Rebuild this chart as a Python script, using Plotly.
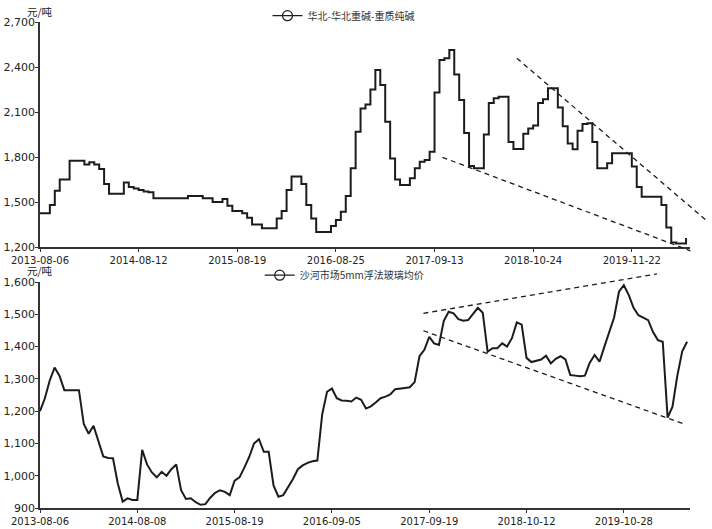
import plotly.graph_objects as go

# ---------------- data ----------------
top_tick_labels = ["2013-08-06", "2014-08-12", "2015-08-19", "2016-08-25",
                   "2017-09-13", "2018-10-24", "2019-11-22"]
bottom_tick_labels = ["2013-08-06", "2014-08-08", "2015-08-19", "2016-09-05",
                      "2017-09-19", "2018-10-12", "2019-10-28"]
points_per_tick = 20

soda_name = "华北-华北重碱-重质纯碱"
soda_price = [
    1425, 1425, 1480, 1575, 1650, 1650, 1775, 1775, 1775, 1750,
    1765, 1750, 1720, 1620, 1555, 1555, 1555, 1630, 1600, 1590,
    1580, 1570, 1565, 1525, 1525, 1525, 1525, 1525, 1525, 1525,
    1540, 1540, 1540, 1525, 1525, 1500, 1500, 1520, 1475, 1440,
    1440, 1425, 1395, 1350, 1350, 1325, 1325, 1325, 1390, 1440,
    1580, 1670, 1670, 1620, 1480, 1390, 1300, 1300, 1300, 1340,
    1380, 1435, 1540, 1725, 1969, 2124, 2150, 2250, 2380, 2280,
    2035, 1790, 1650, 1613, 1613, 1658, 1725, 1769, 1780, 1835,
    2230, 2447, 2458, 2513, 2350, 2180, 1960, 1740, 1725, 1725,
    1950, 2160, 2191, 2202, 2202, 1900, 1853, 1853, 1955, 1990,
    2010, 2160, 2185, 2258, 2258, 2130, 2005, 1890, 1851, 1975,
    2020, 2025, 1900, 1725, 1725, 1758, 1825, 1825, 1825, 1825,
    1736, 1600, 1535, 1535, 1535, 1535, 1480, 1330, 1230, 1224,
    1224, 1260,
]

glass_name = "沙河市场5mm浮法玻璃均价"
glass_price = [
    1200, 1240, 1295, 1335, 1310, 1265, 1265, 1265, 1265, 1160,
    1130, 1155, 1105, 1060, 1055, 1054, 975, 920, 930, 925,
    925, 1080, 1035, 1010, 995, 1012, 1000, 1020, 1035, 955,
    928, 930, 918, 910, 912, 932, 947, 955, 950, 940,
    985, 995, 1025, 1058, 1100, 1113, 1074, 1074, 970, 935,
    940, 965, 990, 1020, 1032, 1040, 1045, 1047, 1190, 1260,
    1270, 1240, 1233, 1232, 1230, 1242, 1235, 1208, 1215, 1227,
    1240, 1245, 1252, 1268, 1271, 1272, 1274, 1290, 1370, 1390,
    1430, 1410, 1405, 1480, 1508, 1503, 1485, 1480, 1482, 1500,
    1520, 1505, 1384, 1395, 1395, 1410, 1400, 1426, 1475, 1468,
    1365, 1352, 1356, 1360, 1372, 1348, 1362, 1370, 1360, 1312,
    1310, 1308, 1310, 1350, 1374, 1353, 1400, 1446, 1490, 1570,
    1590, 1560, 1520, 1497, 1490, 1482, 1445, 1420, 1415, 1180,
    1214, 1310, 1385, 1415,
]

# hand-drawn trend lines: (index, price) endpoints
soda_trend_upper = [(96.7, 2458), (135.4, 1369)]
soda_trend_lower = [(81.6, 1798), (131.9, 1175)]
glass_trend_upper = [(78.8, 1503), (126.8, 1625)]
glass_trend_lower = [(78.8, 1449), (132.6, 1159)]

unit = "元/吨"

# ---------------- layout constants ----------------
W, H = 712, 529
ML, MR, MT, MB = 40, 22, 22, 21
top_dom = [0.537, 1.0]
bot_dom = [0.0, 0.465]
top_xrange = [0, 131.8]
bot_xrange = [0, 133.6]
top_yrange = [1200, 2700]
bot_yrange = [900, 1600]

TICK_FONT = dict(family="DejaVu Sans", size=10, color="#222")
YTICK_FONT = dict(family="DejaVu Sans", size=11, color="#222")
CJK = "Noto Sans CJK SC"
LINE_COLOR = "#1c1c1c"

fig = go.Figure()

fig.add_trace(go.Scatter(
    x=list(range(len(soda_price))), y=soda_price, mode="lines",
    line=dict(color=LINE_COLOR, width=2, shape="hv"),
    xaxis="x", yaxis="y", showlegend=False, hoverinfo="skip"))
fig.add_trace(go.Scatter(
    x=[None], y=[None], mode="lines+markers", name=soda_name,
    line=dict(color=LINE_COLOR, width=1.2),
    marker=dict(symbol="circle-open", size=10, color=LINE_COLOR, line=dict(width=1.2)),
    xaxis="x", yaxis="y", legend="legend"))

fig.add_trace(go.Scatter(
    x=list(range(len(glass_price))), y=glass_price, mode="lines",
    line=dict(color=LINE_COLOR, width=2),
    xaxis="x2", yaxis="y2", showlegend=False, hoverinfo="skip"))
fig.add_trace(go.Scatter(
    x=[None], y=[None], mode="lines+markers", name=glass_name,
    line=dict(color=LINE_COLOR, width=1.2),
    marker=dict(symbol="circle-open", size=10, color=LINE_COLOR, line=dict(width=1.2)),
    xaxis="x2", yaxis="y2", legend="legend2"))


def to_dom(pt, xr, yr):
    x, y = pt
    return (x - xr[0]) / (xr[1] - xr[0]), (y - yr[0]) / (yr[1] - yr[0])


shapes = []
for trend, xr, yr, ax in [
    (soda_trend_upper, top_xrange, top_yrange, ""),
    (soda_trend_lower, top_xrange, top_yrange, ""),
    (glass_trend_upper, bot_xrange, bot_yrange, "2"),
    (glass_trend_lower, bot_xrange, bot_yrange, "2"),
]:
    (x0, y0), (x1, y1) = to_dom(trend[0], xr, yr), to_dom(trend[1], xr, yr)
    shapes.append(dict(type="line", xref=f"x{ax} domain", yref=f"y{ax} domain",
                       x0=x0, y0=y0, x1=x1, y1=y1,
                       line=dict(color=LINE_COLOR, width=1.3, dash="5px,4px")))

xcommon = dict(showgrid=False, zeroline=False, showline=True, linecolor="#333",
               linewidth=1.5, ticks="outside", ticklen=3, tickcolor="#333",
               tickfont=TICK_FONT, automargin=False)
ycommon = dict(showgrid=False, zeroline=False, showline=True, linecolor="#333",
               linewidth=1.5, ticks="outside", ticklen=3, tickcolor="#333",
               tickfont=YTICK_FONT, tickformat=",d", ticklabelstandoff=-2,
               automargin=False)

top_tickvals = [i * points_per_tick for i in range(len(top_tick_labels))]
bot_tickvals = [i * points_per_tick for i in range(len(bottom_tick_labels))]

fig.update_layout(
    width=W, height=H,
    margin=dict(l=ML, r=MR, t=MT, b=MB, autoexpand=False),
    paper_bgcolor="white", plot_bgcolor="white",
    xaxis=dict(xcommon, domain=[0, 1], range=top_xrange, anchor="y",
               tickmode="array", tickvals=top_tickvals, ticktext=top_tick_labels),
    yaxis=dict(ycommon, domain=top_dom, range=top_yrange, anchor="x",
               tickmode="linear", tick0=1200, dtick=300),
    xaxis2=dict(xcommon, domain=[0, 1], range=bot_xrange, anchor="y2",
                tickmode="array", tickvals=bot_tickvals, ticktext=bottom_tick_labels),
    yaxis2=dict(ycommon, domain=bot_dom, range=bot_yrange, anchor="x2",
                tickmode="linear", tick0=900, dtick=100),
    shapes=shapes,
    legend=dict(x=0.35, y=1.013, xanchor="left", yanchor="middle",
                font=dict(family=CJK, size=10, color="#333"),
                bgcolor="rgba(0,0,0,0)", itemwidth=30, tracegroupgap=0),
    legend2=dict(x=0.338, y=0.479, xanchor="left", yanchor="middle",
                 font=dict(family=CJK, size=10, color="#333"),
                 bgcolor="rgba(0,0,0,0)", itemwidth=30, tracegroupgap=0),
    annotations=[
        dict(text=unit, xref="paper", yref="paper", x=0, y=1.0206,
             xanchor="center", yanchor="middle", showarrow=False,
             font=dict(family=CJK, size=10.5, color="#222")),
        dict(text=unit, xref="paper", yref="paper", x=0, y=0.4877,
             xanchor="center", yanchor="middle", showarrow=False,
             font=dict(family=CJK, size=10.5, color="#222")),
    ],
)

fig.write_html("out.html", config={"displayModeBar": False},
               post_script="document.body.style.margin='0';document.body.style.overflow='hidden';")
